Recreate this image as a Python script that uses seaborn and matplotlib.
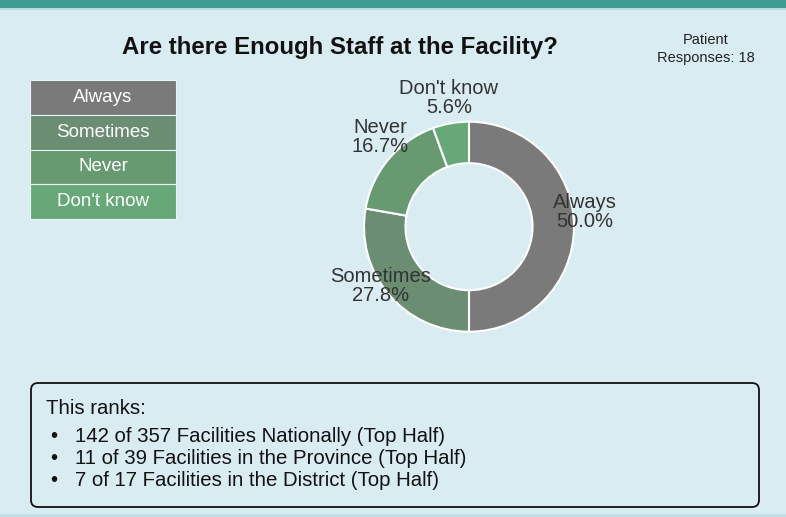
import seaborn as sns
import matplotlib.pyplot as plt
from matplotlib.patches import Rectangle, FancyBboxPatch
from matplotlib.transforms import offset_copy

# data
categories = ["Always", "Sometimes", "Never", "Don't know"]
counts = [9, 5, 3, 1]
total_responses = 18
title = "Are there Enough Staff at the Facility?"
rank_lines = [
    "142 of 357 Facilities Nationally (Top Half)",
    "11 of 39 Facilities in the Province (Top Half)",
    "7 of 17 Facilities in the District (Top Half)",
]

colors = sns.color_palette(["#7a7a7a", "#6b8e72", "#679a70", "#66a877"])
bg = "#d9ecf2"

sns.set_theme(style="white")
plt.rcParams["font.family"] = ["Liberation Sans", "DejaVu Sans"]

W, H = 786, 517
fig = plt.figure(figsize=(W / 100, H / 100), dpi=100, facecolor=bg)

# overlay axes in pixel units (y down)
ov = fig.add_axes([0, 0, 1, 1])
ov.set_xlim(0, W)
ov.set_ylim(H, 0)
ov.axis("off")

ov.add_patch(Rectangle((0, 0), W, 8, color="#3e9b92", lw=0))
ov.add_patch(Rectangle((0, 8), W, 2, color="#b6dce0", lw=0))
ov.add_patch(Rectangle((0, 514), W, 3, color="#c3e0e6", lw=0))

ov.text(339.5, 54, title, ha="center", va="baseline",
        fontsize=17.3, fontweight="bold", color="#111111")
ov.text(705.5, 44.3, "Patient", ha="center", va="baseline",
        fontsize=10.5, color="#222222")
ov.text(705.5, 61.7, f"Responses: {total_responses}", ha="center",
        va="baseline", fontsize=10.5, color="#222222")

# legend column
row_h = 34.75
for i, (cat, col) in enumerate(zip(categories, colors)):
    y0 = 80 + i * row_h
    ov.add_patch(Rectangle((30, y0), 146, row_h, facecolor=col,
                           edgecolor="#e8f4f7", lw=0.8))
    ov.text(103, y0 + row_h / 2, cat, ha="center", va="center",
            fontsize=13.5, color="white")

# ranking box
ov.add_patch(FancyBboxPatch((31, 383), 728, 124,
                            boxstyle="round,pad=0,rounding_size=7",
                            facecolor=bg, edgecolor="#111111", lw=1.3))
ov.text(46, 413.5, "This ranks:", ha="left", va="baseline",
        fontsize=14.7, color="#111111")
for i, line in enumerate(rank_lines):
    yb = 442 + i * 21.8
    ov.text(54, yb, "\u2022", ha="center", va="baseline",
            fontsize=14.7, color="#111111")
    ov.text(75, yb, line, ha="left", va="baseline",
            fontsize=14.7, color="#111111")

# donut
R = 105
S = 150
cx, cy = 469, 226.7
ax = fig.add_axes([(cx - S) / W, (H - cy - S) / H, 2 * S / W, 2 * S / H])
ax.set_facecolor("none")
pct = [c / sum(counts) * 100 for c in counts]
labels = [f"{c}\n{p:.1f}%" for c, p in zip(categories, pct)]
wedges, texts = ax.pie(counts, labels=labels, colors=colors, startangle=90,
                       counterclock=False, labeldistance=1.1,
                       wedgeprops=dict(width=0.395, edgecolor="white",
                                       linewidth=1.5),
                       textprops=dict(fontsize=14.5, color="#333333"))
for t in texts:
    t.set_ha("center")
    t.set_va("bottom")
    t.set_linespacing(1.0)
    t.set_transform(offset_copy(ax.transData, fig=fig, y=-4, units="dots"))
lim = S / R
ax.set_xlim(-lim, lim)
ax.set_ylim(-lim, lim)
ax.axis("off")

fig.savefig("out.png", dpi=100, facecolor=bg)
